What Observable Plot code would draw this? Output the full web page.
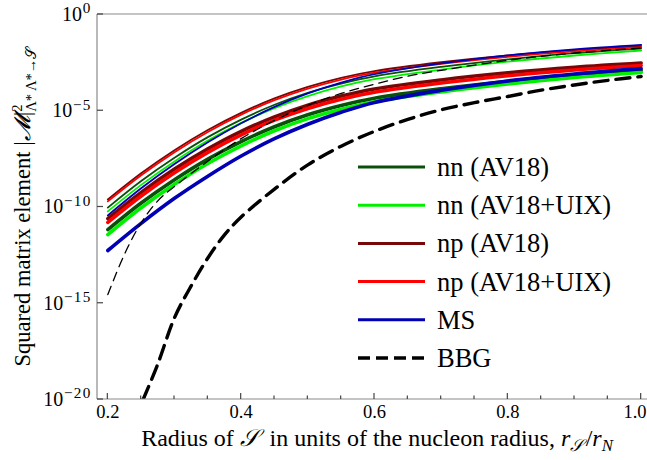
<!DOCTYPE html>
<html><head><meta charset="utf-8">
<script src="https://cdn.jsdelivr.net/npm/d3@7"></script>
<script src="https://cdn.jsdelivr.net/npm/@observablehq/plot@0.6"></script>
<style>
body{margin:0;background:#fff;}
#chart svg{font-family:"Liberation Serif","Times New Roman",serif;}
</style>
</head><body><div id="chart"></div>
<script>
// Radius grid r_S/r_N
const radius = [0.2,0.25,0.3,0.35,0.4,0.45,0.5,0.55,0.6,0.7,0.8,0.9,1.0];
// log10 |M|^2 — upper (thin) family
const nnAV18Thin = [-10.03,-8.65,-7.44,-6.37,-5.46,-4.69,-4.07,-3.59,-3.21,-2.72,-2.33,-2.01,-1.77];
const nnUIXThin  = [-10.23,-8.85,-7.63,-6.55,-5.63,-4.86,-4.24,-3.74,-3.36,-2.86,-2.45,-2.13,-1.87];
const npAV18Thin = [-9.61,-8.25,-7.05,-6.00,-5.11,-4.36,-3.76,-3.29,-2.94,-2.48,-2.12,-1.85,-1.64];
const npUIXThin  = [-9.71,-8.35,-7.15,-6.10,-5.20,-4.45,-3.85,-3.38,-3.02,-2.56,-2.20,-1.92,-1.71];
const msThin     = [-10.44,-9.03,-7.77,-6.64,-5.65,-4.80,-4.10,-3.54,-3.10,-2.54,-2.12,-1.81,-1.58];
// lower (thick) family
const nnAV18Thick = [-11.17,-9.79,-8.58,-7.51,-6.60,-5.83,-5.21,-4.73,-4.35,-3.86,-3.47,-3.15,-2.91];
const nnUIXThick  = [-11.43,-10.04,-8.82,-7.74,-6.82,-6.04,-5.41,-4.92,-4.53,-4.02,-3.61,-3.27,-3.01];
const npAV18Thick = [-10.60,-9.24,-8.03,-6.98,-6.07,-5.32,-4.71,-4.24,-3.87,-3.40,-3.03,-2.74,-2.52];
const npUIXThick  = [-10.80,-9.43,-8.22,-7.16,-6.25,-5.49,-4.88,-4.40,-4.04,-3.56,-3.18,-2.88,-2.65];
const msThick     = [-12.26,-10.85,-9.55,-8.40,-7.35,-6.45,-5.70,-5.08,-4.57,-3.94,-3.45,-3.09,-2.81];
// BBG
const bbgThinR = [0.2,0.225,0.25,0.275,0.3,0.35,0.4,0.45,0.5,0.55,0.6,0.65,0.7,0.8,0.9,1.0];
const bbgThin  = [-14.55,-12.45,-10.82,-9.68,-8.93,-7.62,-6.45,-5.5,-4.72,-4.1,-3.62,-3.2,-2.9,-2.38,-2.0,-1.74];
const bbgThickR = [0.253,0.275,0.3,0.325,0.35,0.375,0.4,0.45,0.5,0.55,0.6,0.65,0.7,0.75,0.8,0.85,0.9,0.95,1.0];
const bbgThick  = [-20,-18.15,-15.75,-14.1,-12.65,-11.45,-10.52,-9.07,-7.81,-6.84,-6.07,-5.45,-4.95,-4.58,-4.26,-3.93,-3.66,-3.42,-3.22];

const legendLabels = ["nn (AV18)","nn (AV18+UIX)","np (AV18)","np (AV18+UIX)","MS","BBG"];
const legendColors = ["#0a500a","#00f000","#780808","#ff0000","#0000b4","#000000"];
const xTicks = [0.2,0.4,0.6,0.8,1.0];
const xMinorTicks = [0.25,0.3,0.35,0.45,0.5,0.55,0.65,0.7,0.75,0.85,0.9,0.95];
const yTickExps = [0,-5,-10,-15,-20];

const rows = (xs, logs) => xs.map((x,i)=>({x, y: Math.pow(10, logs[i])}));
const series = [
  {d: nnAV18Thin, c:0, w:1.8}, {d: nnUIXThin, c:1, w:1.8}, {d: npAV18Thin, c:2, w:1.8}, {d: npUIXThin, c:3, w:1.8}, {d: msThin, c:4, w:1.8},
  {d: nnAV18Thick, c:0, w:3.6}, {d: nnUIXThick, c:1, w:3.6}, {d: npAV18Thick, c:2, w:3.6}, {d: npUIXThick, c:3, w:3.6}, {d: msThick, c:4, w:3.6}
];

const W = 647, H = 460, ML = 97, MT = 14, MB = 61;
const marks = [];
for (const s of series) {
  marks.push(Plot.line(rows(radius, s.d), {x:"x", y:"y", stroke: legendColors[s.c], strokeWidth: s.w, curve:"catmull-rom", clip:true}));
}
marks.push(Plot.line(rows(bbgThinR, bbgThin), {x:"x", y:"y", stroke:"#000", strokeWidth:1.3, strokeDasharray:"9,6", curve:"catmull-rom", clip:true}));
marks.push(Plot.line(rows(bbgThickR, bbgThick), {x:"x", y:"y", stroke:"#000", strokeWidth:3.4, strokeDasharray:"14,8", curve:"catmull-rom", clip:true}));
marks.push(Plot.axisX(xTicks, {tickSize:0, tickPadding:5, tickFormat: d=>d.toFixed(1), fontSize:18.5, label:null}));
marks.push(Plot.axisY(yTickExps.map(e=>Math.pow(10,e)), {tickSize:0, tickPadding:6, tickFormat: d=>"10^"+Math.round(Math.log10(d)), fontSize:20, label:null}));

const chart = Plot.plot({
  width: W, height: H,
  marginLeft: ML, marginRight: 0, marginTop: MT, marginBottom: MB,
  x: {domain:[0.1845, 1.0095]},
  y: {type:"log", domain:[1e-20, 1]},
  style: {fontFamily:"'Liberation Serif', serif", fontSize:"18.5px", background:"#fff", color:"#000"},
  marks
});
document.getElementById("chart").append(chart);

const svg = d3.select(chart);
const xs = chart.scale("x"), ys = chart.scale("y");
const X0 = ML, X1 = W, Y0 = MT, Y1 = H - MB;
const axisColor = "#8a8a8a";

// superscript y tick labels
svg.selectAll('[aria-label="y-axis tick label"] text').each(function(){
  const t = d3.select(this);
  const s = t.text();
  const e = s.split("^")[1];
  t.text("10");
  t.append("tspan").attr("dy","-0.5em").attr("dx","0.05em").attr("font-size","0.76em").attr("letter-spacing","0.08em").text(e.replace("-","\u2212"));
});
// keep last x tick label inside the picture
svg.selectAll('[aria-label="x-axis tick label"] text').filter(function(){ return d3.select(this).text()==="1.0"; })
  .each(function(){
    const t = d3.select(this);
    const m = (t.attr("transform")||"").match(/translate\(\s*([-\d.]+)\s*,\s*([-\d.]+)\s*\)/);
    const ty = m ? m[2] : 0;
    t.attr("text-anchor","end").attr("transform", `translate(${W-1},${ty})`);
  });

// frame + ticks
const g = svg.append("g").attr("stroke", axisColor).attr("stroke-width", 1.2).attr("fill","none");
g.append("line").attr("x1",X0).attr("x2",X0).attr("y1",Y0).attr("y2",Y1);
g.append("line").attr("x1",X0).attr("x2",X1).attr("y1",Y0).attr("y2",Y0);
g.append("line").attr("x1",X0).attr("x2",X1).attr("y1",Y1).attr("y2",Y1);
for (const t of xTicks) { const px = xs.apply(t); g.append("line").attr("x1",px).attr("x2",px).attr("y1",Y1).attr("y2",Y1-6).attr("stroke","#444"); }
for (const t of xMinorTicks) { const px = xs.apply(t); g.append("line").attr("x1",px).attr("x2",px).attr("y1",Y1).attr("y2",Y1-3.5).attr("stroke","#444"); }
for (const e of yTickExps) { const py = ys.apply(Math.pow(10,e)); g.append("line").attr("x1",X0).attr("x2",X0+6).attr("y1",py).attr("y2",py).attr("stroke","#444"); }

// axis titles
const fam = "'Liberation Serif', serif";
const xl = svg.append("text").attr("x", 377).attr("y", 446).attr("text-anchor","middle").attr("font-size", 24).attr("font-family", fam).attr("fill","#000");
xl.append("tspan").text("Radius of ");
xl.append("tspan").attr("font-style","italic").text("\u{1D4AE}");
xl.append("tspan").text("\u2009 in units of the nucleon radius, ");
xl.append("tspan").attr("font-style","italic").text("r");
xl.append("tspan").attr("font-size","0.7em").attr("dy","0.3em").attr("font-style","italic").text("\u{1D4AE}");
xl.append("tspan").attr("dy","-0.21em").attr("dx","0.1em").text("/");
xl.append("tspan").attr("font-style","italic").text("r");
xl.append("tspan").attr("font-size","0.7em").attr("dy","0.3em").attr("font-style","italic").text("N");

const yl = svg.append("text").attr("transform", `translate(30,${(Y0+Y1)/2}) rotate(-90)`).attr("text-anchor","middle").attr("font-size", 22.5).attr("font-family", fam).attr("fill","#000");
yl.append("tspan").text("Squared matrix element |");
yl.append("tspan").attr("font-style","italic").text("\u{1D4DC}");
yl.append("tspan").text("|");
yl.append("tspan").attr("font-size","0.65em").attr("dy","-0.55em").text("2");
yl.append("tspan").attr("font-size","0.65em").attr("dx","-0.5em").attr("dy","0.95em").text("\u039B* \u039B*\u2192\u{1D4AE}");

// legend
const lg = svg.append("g").attr("text-anchor","start");
const ly0 = 167, ldy = 38.2;
legendLabels.forEach((lab, i) => {
  const y = ly0 + i*ldy;
  const ln = lg.append("line").attr("x1",358).attr("x2",425).attr("y1",y).attr("y2",y).attr("stroke", legendColors[i]).attr("stroke-width", i===5?3.4:3);
  if (i===5) ln.attr("stroke-dasharray","12,6");
  lg.append("text").attr("x",437).attr("y",y).attr("dy","0.34em").attr("text-anchor","start").attr("font-size",26.5).attr("font-family",fam).attr("fill","#000").text(lab);
});
</script>
</body></html>
